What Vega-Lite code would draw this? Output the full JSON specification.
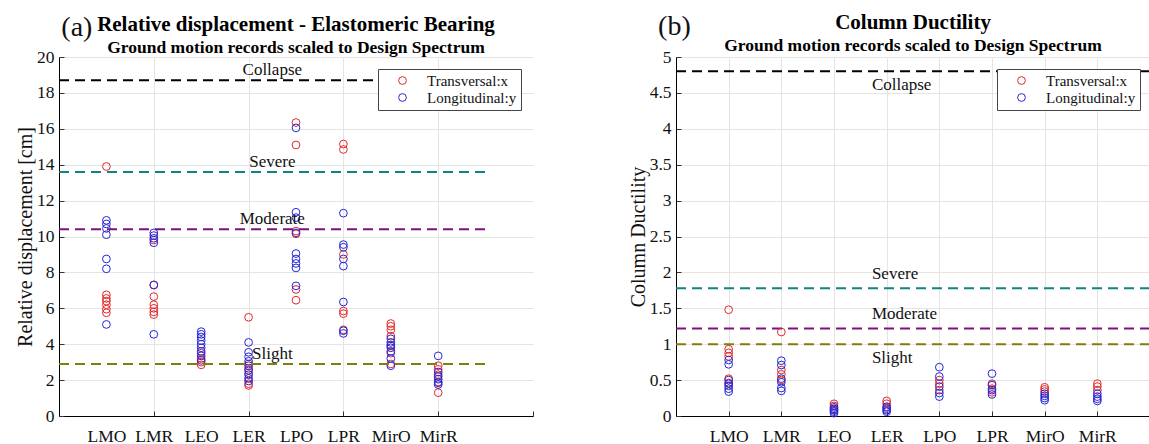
{
  "$schema": "https://vega.github.io/schema/vega-lite/v6.json",
  "background": "white",
  "padding": {"left": 15, "top": 12, "right": 0, "bottom": 0},
  "bounds": "flush",
  "spacing": 143,
  "config": {
    "font": "Liberation Serif",
    "view": {"stroke": null},
    "axis": {
      "domainColor": "#000000",
      "domainWidth": 1,
      "tickColor": "#333333",
      "tickSize": -5,
      "gridColor": "#e4e4e4",
      "gridWidth": 1,
      "labelOverlap": false,
      "labelSeparation": -100,
      "labelBound": false,
      "labelFont": "Liberation Serif",
      "labelFontSize": 17.5,
      "labelColor": "#111111",
      "titleFont": "Liberation Serif",
      "titleFontSize": 20,
      "titleFontWeight": "normal",
      "titleColor": "#111111"
    },
    "title": {
      "font": "Liberation Serif",
      "subtitleFont": "Liberation Serif",
      "fontSize": 21,
      "subtitleFontSize": 17.5,
      "fontWeight": "bold",
      "subtitleFontWeight": "bold",
      "color": "#000000",
      "subtitleColor": "#000000",
      "anchor": "middle",
      "frame": "group",
      "offset": -42,
      "subtitlePadding": 4
    }
  },
  "resolve": {
    "scale": {"color": "independent", "stroke": "independent"},
    "legend": {"color": "independent"}
  },
  "datasets": {
    "displacement": [
      {"site": "LMO", "k": 1, "dir": "Transversal:x", "v": 13.9},
      {"site": "LMO", "k": 1, "dir": "Transversal:x", "v": 6.75},
      {"site": "LMO", "k": 1, "dir": "Transversal:x", "v": 6.55},
      {"site": "LMO", "k": 1, "dir": "Transversal:x", "v": 6.4},
      {"site": "LMO", "k": 1, "dir": "Transversal:x", "v": 6.2},
      {"site": "LMO", "k": 1, "dir": "Transversal:x", "v": 5.95},
      {"site": "LMO", "k": 1, "dir": "Transversal:x", "v": 5.75},
      {"site": "LMO", "k": 1, "dir": "Longitudinal:y", "v": 10.9},
      {"site": "LMO", "k": 1, "dir": "Longitudinal:y", "v": 10.7},
      {"site": "LMO", "k": 1, "dir": "Longitudinal:y", "v": 10.45},
      {"site": "LMO", "k": 1, "dir": "Longitudinal:y", "v": 10.1},
      {"site": "LMO", "k": 1, "dir": "Longitudinal:y", "v": 8.75},
      {"site": "LMO", "k": 1, "dir": "Longitudinal:y", "v": 8.2},
      {"site": "LMO", "k": 1, "dir": "Longitudinal:y", "v": 5.1},
      {"site": "LMR", "k": 2, "dir": "Transversal:x", "v": 9.8},
      {"site": "LMR", "k": 2, "dir": "Transversal:x", "v": 7.3},
      {"site": "LMR", "k": 2, "dir": "Transversal:x", "v": 6.65},
      {"site": "LMR", "k": 2, "dir": "Transversal:x", "v": 6.2},
      {"site": "LMR", "k": 2, "dir": "Transversal:x", "v": 6.0},
      {"site": "LMR", "k": 2, "dir": "Transversal:x", "v": 5.8},
      {"site": "LMR", "k": 2, "dir": "Transversal:x", "v": 5.65},
      {"site": "LMR", "k": 2, "dir": "Longitudinal:y", "v": 10.2},
      {"site": "LMR", "k": 2, "dir": "Longitudinal:y", "v": 10.05},
      {"site": "LMR", "k": 2, "dir": "Longitudinal:y", "v": 9.9},
      {"site": "LMR", "k": 2, "dir": "Longitudinal:y", "v": 9.65},
      {"site": "LMR", "k": 2, "dir": "Longitudinal:y", "v": 7.3},
      {"site": "LMR", "k": 2, "dir": "Longitudinal:y", "v": 4.55},
      {"site": "LEO", "k": 3, "dir": "Transversal:x", "v": 3.5},
      {"site": "LEO", "k": 3, "dir": "Transversal:x", "v": 3.2},
      {"site": "LEO", "k": 3, "dir": "Transversal:x", "v": 3.0},
      {"site": "LEO", "k": 3, "dir": "Transversal:x", "v": 2.85},
      {"site": "LEO", "k": 3, "dir": "Longitudinal:y", "v": 4.7},
      {"site": "LEO", "k": 3, "dir": "Longitudinal:y", "v": 4.55},
      {"site": "LEO", "k": 3, "dir": "Longitudinal:y", "v": 4.4},
      {"site": "LEO", "k": 3, "dir": "Longitudinal:y", "v": 4.2},
      {"site": "LEO", "k": 3, "dir": "Longitudinal:y", "v": 4.0},
      {"site": "LEO", "k": 3, "dir": "Longitudinal:y", "v": 3.8},
      {"site": "LEO", "k": 3, "dir": "Longitudinal:y", "v": 3.6},
      {"site": "LEO", "k": 3, "dir": "Longitudinal:y", "v": 3.35},
      {"site": "LEO", "k": 3, "dir": "Longitudinal:y", "v": 3.1},
      {"site": "LER", "k": 4, "dir": "Transversal:x", "v": 5.5},
      {"site": "LER", "k": 4, "dir": "Transversal:x", "v": 2.9},
      {"site": "LER", "k": 4, "dir": "Transversal:x", "v": 2.65},
      {"site": "LER", "k": 4, "dir": "Transversal:x", "v": 2.4},
      {"site": "LER", "k": 4, "dir": "Transversal:x", "v": 1.8},
      {"site": "LER", "k": 4, "dir": "Transversal:x", "v": 1.7},
      {"site": "LER", "k": 4, "dir": "Longitudinal:y", "v": 4.1},
      {"site": "LER", "k": 4, "dir": "Longitudinal:y", "v": 3.55},
      {"site": "LER", "k": 4, "dir": "Longitudinal:y", "v": 3.3},
      {"site": "LER", "k": 4, "dir": "Longitudinal:y", "v": 3.05},
      {"site": "LER", "k": 4, "dir": "Longitudinal:y", "v": 2.8},
      {"site": "LER", "k": 4, "dir": "Longitudinal:y", "v": 2.55},
      {"site": "LER", "k": 4, "dir": "Longitudinal:y", "v": 2.3},
      {"site": "LER", "k": 4, "dir": "Longitudinal:y", "v": 2.1},
      {"site": "LER", "k": 4, "dir": "Longitudinal:y", "v": 1.95},
      {"site": "LPO", "k": 5, "dir": "Transversal:x", "v": 16.35},
      {"site": "LPO", "k": 5, "dir": "Transversal:x", "v": 15.1},
      {"site": "LPO", "k": 5, "dir": "Transversal:x", "v": 10.3},
      {"site": "LPO", "k": 5, "dir": "Transversal:x", "v": 10.15},
      {"site": "LPO", "k": 5, "dir": "Transversal:x", "v": 7.05},
      {"site": "LPO", "k": 5, "dir": "Transversal:x", "v": 6.45},
      {"site": "LPO", "k": 5, "dir": "Longitudinal:y", "v": 16.05},
      {"site": "LPO", "k": 5, "dir": "Longitudinal:y", "v": 11.35},
      {"site": "LPO", "k": 5, "dir": "Longitudinal:y", "v": 11.05},
      {"site": "LPO", "k": 5, "dir": "Longitudinal:y", "v": 10.2},
      {"site": "LPO", "k": 5, "dir": "Longitudinal:y", "v": 9.05},
      {"site": "LPO", "k": 5, "dir": "Longitudinal:y", "v": 8.75},
      {"site": "LPO", "k": 5, "dir": "Longitudinal:y", "v": 8.5},
      {"site": "LPO", "k": 5, "dir": "Longitudinal:y", "v": 8.25},
      {"site": "LPO", "k": 5, "dir": "Longitudinal:y", "v": 7.25},
      {"site": "LPR", "k": 6, "dir": "Transversal:x", "v": 15.15},
      {"site": "LPR", "k": 6, "dir": "Transversal:x", "v": 14.85},
      {"site": "LPR", "k": 6, "dir": "Transversal:x", "v": 9.0},
      {"site": "LPR", "k": 6, "dir": "Transversal:x", "v": 5.85},
      {"site": "LPR", "k": 6, "dir": "Transversal:x", "v": 5.7},
      {"site": "LPR", "k": 6, "dir": "Transversal:x", "v": 4.8},
      {"site": "LPR", "k": 6, "dir": "Longitudinal:y", "v": 11.3},
      {"site": "LPR", "k": 6, "dir": "Longitudinal:y", "v": 9.55},
      {"site": "LPR", "k": 6, "dir": "Longitudinal:y", "v": 9.4},
      {"site": "LPR", "k": 6, "dir": "Longitudinal:y", "v": 8.75},
      {"site": "LPR", "k": 6, "dir": "Longitudinal:y", "v": 8.35},
      {"site": "LPR", "k": 6, "dir": "Longitudinal:y", "v": 6.35},
      {"site": "LPR", "k": 6, "dir": "Longitudinal:y", "v": 4.75},
      {"site": "LPR", "k": 6, "dir": "Longitudinal:y", "v": 4.6},
      {"site": "MirO", "k": 7, "dir": "Transversal:x", "v": 5.15},
      {"site": "MirO", "k": 7, "dir": "Transversal:x", "v": 5.0},
      {"site": "MirO", "k": 7, "dir": "Transversal:x", "v": 4.8},
      {"site": "MirO", "k": 7, "dir": "Transversal:x", "v": 4.45},
      {"site": "MirO", "k": 7, "dir": "Transversal:x", "v": 3.9},
      {"site": "MirO", "k": 7, "dir": "Transversal:x", "v": 3.5},
      {"site": "MirO", "k": 7, "dir": "Transversal:x", "v": 2.9},
      {"site": "MirO", "k": 7, "dir": "Longitudinal:y", "v": 4.3},
      {"site": "MirO", "k": 7, "dir": "Longitudinal:y", "v": 4.1},
      {"site": "MirO", "k": 7, "dir": "Longitudinal:y", "v": 3.95},
      {"site": "MirO", "k": 7, "dir": "Longitudinal:y", "v": 3.8},
      {"site": "MirO", "k": 7, "dir": "Longitudinal:y", "v": 3.6},
      {"site": "MirO", "k": 7, "dir": "Longitudinal:y", "v": 3.2},
      {"site": "MirO", "k": 7, "dir": "Longitudinal:y", "v": 2.8},
      {"site": "MirR", "k": 8, "dir": "Transversal:x", "v": 2.8},
      {"site": "MirR", "k": 8, "dir": "Transversal:x", "v": 2.6},
      {"site": "MirR", "k": 8, "dir": "Transversal:x", "v": 2.3},
      {"site": "MirR", "k": 8, "dir": "Transversal:x", "v": 1.9},
      {"site": "MirR", "k": 8, "dir": "Transversal:x", "v": 1.3},
      {"site": "MirR", "k": 8, "dir": "Longitudinal:y", "v": 3.35},
      {"site": "MirR", "k": 8, "dir": "Longitudinal:y", "v": 2.45},
      {"site": "MirR", "k": 8, "dir": "Longitudinal:y", "v": 2.2},
      {"site": "MirR", "k": 8, "dir": "Longitudinal:y", "v": 2.05},
      {"site": "MirR", "k": 8, "dir": "Longitudinal:y", "v": 1.85},
      {"site": "MirR", "k": 8, "dir": "Longitudinal:y", "v": 1.75}
    ],
    "ductility": [
      {"site": "LMO", "k": 1, "dir": "Transversal:x", "v": 1.48},
      {"site": "LMO", "k": 1, "dir": "Transversal:x", "v": 0.93},
      {"site": "LMO", "k": 1, "dir": "Transversal:x", "v": 0.88},
      {"site": "LMO", "k": 1, "dir": "Transversal:x", "v": 0.83},
      {"site": "LMO", "k": 1, "dir": "Transversal:x", "v": 0.52},
      {"site": "LMO", "k": 1, "dir": "Transversal:x", "v": 0.46},
      {"site": "LMO", "k": 1, "dir": "Longitudinal:y", "v": 0.78},
      {"site": "LMO", "k": 1, "dir": "Longitudinal:y", "v": 0.72},
      {"site": "LMO", "k": 1, "dir": "Longitudinal:y", "v": 0.5},
      {"site": "LMO", "k": 1, "dir": "Longitudinal:y", "v": 0.45},
      {"site": "LMO", "k": 1, "dir": "Longitudinal:y", "v": 0.42},
      {"site": "LMO", "k": 1, "dir": "Longitudinal:y", "v": 0.38},
      {"site": "LMO", "k": 1, "dir": "Longitudinal:y", "v": 0.34},
      {"site": "LMR", "k": 2, "dir": "Transversal:x", "v": 1.17},
      {"site": "LMR", "k": 2, "dir": "Transversal:x", "v": 0.64},
      {"site": "LMR", "k": 2, "dir": "Transversal:x", "v": 0.58},
      {"site": "LMR", "k": 2, "dir": "Transversal:x", "v": 0.5},
      {"site": "LMR", "k": 2, "dir": "Longitudinal:y", "v": 0.77},
      {"site": "LMR", "k": 2, "dir": "Longitudinal:y", "v": 0.71},
      {"site": "LMR", "k": 2, "dir": "Longitudinal:y", "v": 0.52},
      {"site": "LMR", "k": 2, "dir": "Longitudinal:y", "v": 0.47},
      {"site": "LMR", "k": 2, "dir": "Longitudinal:y", "v": 0.39},
      {"site": "LMR", "k": 2, "dir": "Longitudinal:y", "v": 0.35},
      {"site": "LEO", "k": 3, "dir": "Transversal:x", "v": 0.17},
      {"site": "LEO", "k": 3, "dir": "Transversal:x", "v": 0.14},
      {"site": "LEO", "k": 3, "dir": "Transversal:x", "v": 0.09},
      {"site": "LEO", "k": 3, "dir": "Longitudinal:y", "v": 0.12},
      {"site": "LEO", "k": 3, "dir": "Longitudinal:y", "v": 0.1},
      {"site": "LEO", "k": 3, "dir": "Longitudinal:y", "v": 0.08},
      {"site": "LEO", "k": 3, "dir": "Longitudinal:y", "v": 0.06},
      {"site": "LEO", "k": 3, "dir": "Longitudinal:y", "v": 0.04},
      {"site": "LER", "k": 4, "dir": "Transversal:x", "v": 0.21},
      {"site": "LER", "k": 4, "dir": "Transversal:x", "v": 0.17},
      {"site": "LER", "k": 4, "dir": "Transversal:x", "v": 0.12},
      {"site": "LER", "k": 4, "dir": "Longitudinal:y", "v": 0.13},
      {"site": "LER", "k": 4, "dir": "Longitudinal:y", "v": 0.1},
      {"site": "LER", "k": 4, "dir": "Longitudinal:y", "v": 0.08},
      {"site": "LER", "k": 4, "dir": "Longitudinal:y", "v": 0.06},
      {"site": "LPO", "k": 5, "dir": "Transversal:x", "v": 0.5},
      {"site": "LPO", "k": 5, "dir": "Transversal:x", "v": 0.45},
      {"site": "LPO", "k": 5, "dir": "Transversal:x", "v": 0.36},
      {"site": "LPO", "k": 5, "dir": "Longitudinal:y", "v": 0.68},
      {"site": "LPO", "k": 5, "dir": "Longitudinal:y", "v": 0.55},
      {"site": "LPO", "k": 5, "dir": "Longitudinal:y", "v": 0.41},
      {"site": "LPO", "k": 5, "dir": "Longitudinal:y", "v": 0.32},
      {"site": "LPO", "k": 5, "dir": "Longitudinal:y", "v": 0.27},
      {"site": "LPR", "k": 6, "dir": "Transversal:x", "v": 0.45},
      {"site": "LPR", "k": 6, "dir": "Transversal:x", "v": 0.38},
      {"site": "LPR", "k": 6, "dir": "Transversal:x", "v": 0.33},
      {"site": "LPR", "k": 6, "dir": "Longitudinal:y", "v": 0.59},
      {"site": "LPR", "k": 6, "dir": "Longitudinal:y", "v": 0.43},
      {"site": "LPR", "k": 6, "dir": "Longitudinal:y", "v": 0.36},
      {"site": "LPR", "k": 6, "dir": "Longitudinal:y", "v": 0.3},
      {"site": "MirO", "k": 7, "dir": "Transversal:x", "v": 0.4},
      {"site": "MirO", "k": 7, "dir": "Transversal:x", "v": 0.37},
      {"site": "MirO", "k": 7, "dir": "Transversal:x", "v": 0.34},
      {"site": "MirO", "k": 7, "dir": "Longitudinal:y", "v": 0.31},
      {"site": "MirO", "k": 7, "dir": "Longitudinal:y", "v": 0.28},
      {"site": "MirO", "k": 7, "dir": "Longitudinal:y", "v": 0.25},
      {"site": "MirO", "k": 7, "dir": "Longitudinal:y", "v": 0.22},
      {"site": "MirR", "k": 8, "dir": "Transversal:x", "v": 0.45},
      {"site": "MirR", "k": 8, "dir": "Transversal:x", "v": 0.41},
      {"site": "MirR", "k": 8, "dir": "Transversal:x", "v": 0.36},
      {"site": "MirR", "k": 8, "dir": "Longitudinal:y", "v": 0.31},
      {"site": "MirR", "k": 8, "dir": "Longitudinal:y", "v": 0.27},
      {"site": "MirR", "k": 8, "dir": "Longitudinal:y", "v": 0.24},
      {"site": "MirR", "k": 8, "dir": "Longitudinal:y", "v": 0.21}
    ],
    "levelsDisplacement": [
      {"level": "Collapse", "v": 18.7},
      {"level": "Severe", "v": 13.6},
      {"level": "Moderate", "v": 10.4},
      {"level": "Slight", "v": 2.9}
    ],
    "levelsDuctility": [
      {"level": "Collapse", "v": 4.8},
      {"level": "Severe", "v": 1.78},
      {"level": "Moderate", "v": 1.22},
      {"level": "Slight", "v": 1.0}
    ]
  },
  "hconcat": [
    {
      "width": 474,
      "height": 359,
      "title": {
        "text": "Relative displacement - Elastomeric Bearing",
        "subtitle": "Ground motion records scaled to Design Spectrum"
      },
      "layer": [
        {
          "data": {"name": "displacement"},
          "mark": {"type": "point", "shape": "circle", "filled": false, "size": 60, "strokeWidth": 1, "opacity": 1},
          "encoding": {
            "x": {
              "field": "k", "type": "quantitative",
              "scale": {"domain": [0, 10], "nice": false, "zero": false},
              "axis": {
                "title": null,
                "values": [0, 1, 2, 3, 4, 5, 6, 7, 8, 9, 10],
                "labelExpr": "['', 'LMO', 'LMR', 'LEO', 'LER', 'LPO', 'LPR', 'MirO', 'MirR', '', ''][datum.value]",
                "labelOverlap": false,
                "labelPadding": 16,
                "grid": true,
                "gridOpacity": {"condition": {"test": "datum.value % 2 == 0 && datum.value > 0 && datum.value < 10", "value": 1}, "value": 0},
                "tickOpacity": {"condition": {"test": "datum.value % 2 == 0 && datum.value > 0", "value": 1}, "value": 0}
              }
            },
            "y": {
              "field": "v", "type": "quantitative",
              "scale": {"domain": [0, 20], "nice": false},
              "axis": {
                "title": "Relative displacement [cm]",
                "values": [0, 2, 4, 6, 8, 10, 12, 14, 16, 18, 20],
                "tickCount": 11,
                "labelExpr": "format(datum.value, '~g')",
                "labelOverlap": false,
                "labelSeparation": -100,
                "grid": true,
                "labelPadding": 10,
                "titlePadding": 1
              }
            },
            "color": {
              "field": "dir", "type": "nominal",
              "scale": {"domain": ["Transversal:x", "Longitudinal:y"], "range": ["#e2292b", "#2626d4"]},
              "legend": {
                "title": null,
                "orient": "none",
                "legendX": 319,
                "legendY": 12,
                "strokeColor": "#444444",
                "fillColor": "white",
                "padding": 4,
                "symbolType": "circle",
                "symbolSize": 60,
                "symbolStrokeWidth": 1,
                "symbolOffset": 13,
                "labelOffset": 17,
                "labelFont": "Liberation Serif",
                "labelFontSize": 15,
                "labelColor": "#111111",
                "rowPadding": 1
              }
            }
          }
        },
        {
          "data": {"name": "levelsDisplacement"},
          "mark": {"type": "rule", "strokeDash": [10, 6], "strokeWidth": 2},
          "encoding": {
            "x": {"datum": 0, "type": "quantitative"},
            "x2": {"datum": 9},
            "y": {"field": "v", "type": "quantitative"},
            "stroke": {
              "field": "level", "type": "nominal",
              "scale": {"domain": ["Collapse", "Severe", "Moderate", "Slight"], "range": ["#000000", "#0f8484", "#7f0f80", "#808010"]},
              "legend": null
            }
          }
        },
        {
          "data": {"name": "levelsDisplacement"},
          "mark": {"type": "text", "align": "center", "baseline": "bottom", "dy": -1, "fontSize": 17, "font": "Liberation Serif", "color": "#111111"},
          "encoding": {
            "x": {"datum": 4.5, "type": "quantitative"},
            "y": {"field": "v", "type": "quantitative"},
            "text": {"field": "level"}
          }
        },
        {
          "data": {"values": [{"panel": "(a)"}]},
          "mark": {"type": "text", "align": "left", "baseline": "middle", "fontSize": 28, "font": "Liberation Serif", "color": "#111111", "clip": false},
          "encoding": {
            "x": {"datum": 0.05, "type": "quantitative"},
            "y": {"datum": 21.6, "type": "quantitative"},
            "text": {"field": "panel"}
          }
        }
      ]
    },
    {
      "width": 474,
      "height": 359,
      "title": {
        "text": "Column Ductility",
        "subtitle": "Ground motion records scaled to Design Spectrum"
      },
      "layer": [
        {
          "data": {"name": "levelsDuctility"},
          "mark": {"type": "rule", "strokeDash": [10, 6], "strokeWidth": 2},
          "encoding": {
            "x": {"datum": 0, "type": "quantitative"},
            "x2": {"datum": 9},
            "y": {"field": "v", "type": "quantitative"},
            "stroke": {
              "field": "level", "type": "nominal",
              "scale": {"domain": ["Collapse", "Severe", "Moderate", "Slight"], "range": ["#000000", "#0f8484", "#7f0f80", "#808010"]},
              "legend": null
            }
          }
        },
        {
          "data": {"name": "ductility"},
          "mark": {"type": "point", "shape": "circle", "filled": false, "size": 60, "strokeWidth": 1, "opacity": 1},
          "encoding": {
            "x": {
              "field": "k", "type": "quantitative",
              "scale": {"domain": [0, 9], "nice": false, "zero": false},
              "axis": {
                "title": null,
                "values": [1, 2, 3, 4, 5, 6, 7, 8],
                "labelExpr": "['', 'LMO', 'LMR', 'LEO', 'LER', 'LPO', 'LPR', 'MirO', 'MirR'][datum.value]",
                "labelOverlap": false,
                "labelPadding": 16,
                "grid": true
              }
            },
            "y": {
              "field": "v", "type": "quantitative",
              "scale": {"domain": [0, 5], "nice": false},
              "axis": {
                "title": "Column Ductility",
                "values": [0, 0.5, 1, 1.5, 2, 2.5, 3, 3.5, 4, 4.5, 5],
                "tickCount": 11,
                "labelExpr": "format(datum.value, '~g')",
                "labelOverlap": false,
                "labelSeparation": -100,
                "grid": true,
                "labelPadding": 10,
                "titlePadding": 1
              }
            },
            "color": {
              "field": "dir", "type": "nominal",
              "scale": {"domain": ["Transversal:x", "Longitudinal:y"], "range": ["#e2292b", "#2626d4"]},
              "legend": {
                "title": null,
                "orient": "none",
                "legendX": 321,
                "legendY": 12,
                "strokeColor": "#444444",
                "fillColor": "white",
                "padding": 4,
                "symbolType": "circle",
                "symbolSize": 60,
                "symbolStrokeWidth": 1,
                "symbolOffset": 13,
                "labelOffset": 17,
                "labelFont": "Liberation Serif",
                "labelFontSize": 15,
                "labelColor": "#111111",
                "rowPadding": 1
              }
            }
          }
        },
        {
          "data": {"name": "levelsDuctility"},
          "transform": [{"filter": "datum.level == 'Severe' || datum.level == 'Moderate'"}],
          "mark": {"type": "text", "align": "left", "baseline": "bottom", "dy": -5, "fontSize": 17, "font": "Liberation Serif", "color": "#111111"},
          "encoding": {
            "x": {"datum": 3.72, "type": "quantitative"},
            "y": {"field": "v", "type": "quantitative"},
            "text": {"field": "level"}
          }
        },
        {
          "data": {"name": "levelsDuctility"},
          "transform": [{"filter": "datum.level == 'Collapse' || datum.level == 'Slight'"}],
          "mark": {"type": "text", "align": "left", "baseline": "top", "dy": 6, "fontSize": 17, "font": "Liberation Serif", "color": "#111111"},
          "encoding": {
            "x": {"datum": 3.72, "type": "quantitative"},
            "y": {"field": "v", "type": "quantitative"},
            "text": {"field": "level"}
          }
        },
        {
          "data": {"values": [{"panel": "(b)"}]},
          "mark": {"type": "text", "align": "left", "baseline": "middle", "fontSize": 28, "font": "Liberation Serif", "color": "#111111", "clip": false},
          "encoding": {
            "x": {"datum": -0.34, "type": "quantitative"},
            "y": {"datum": 5.42, "type": "quantitative"},
            "text": {"field": "panel"}
          }
        }
      ]
    }
  ]
}
